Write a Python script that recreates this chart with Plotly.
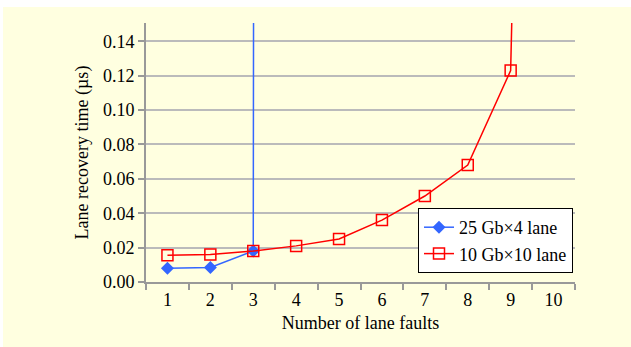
import plotly.graph_objects as go

# Number of lane faults (category axis)
faults = ["1", "2", "3", "4", "5", "6", "7", "8", "9", "10"]

# Lane recovery time in microseconds
lane25x4 = [0.008, 0.0085, 0.018, 20.0]
lane10x10 = [0.0155, 0.016, 0.018, 0.021, 0.025, 0.036, 0.050, 0.068, 0.123, 1.2]

y_ticks = [0.00, 0.02, 0.04, 0.06, 0.08, 0.10, 0.12, 0.14]

FONT = "Liberation Serif"
FS = 18
W, H = 631, 347
L, R, T, B = 146, 56, 23, 65
pw, ph = W - L - R, H - T - B

def px_x(p):
    return (p - L) / pw

def px_y(p):
    return (H - B - p) / ph

fig = go.Figure()

fig.add_trace(go.Scatter(
    x=faults[:len(lane25x4)], y=lane25x4, name="25 Gb×4 lane",
    mode="lines+markers",
    line=dict(color="#3366ff", width=1.5),
    marker=dict(symbol="diamond", size=10, color="#3366ff"),
))
fig.add_trace(go.Scatter(
    x=faults, y=lane10x10, name="10 Gb×10 lane",
    mode="lines+markers",
    line=dict(color="#ff0000", width=1.5),
    marker=dict(symbol="square-open", size=11, color="#ff0000",
                line=dict(width=1.5)),
))

# cream panel behind the chart
fig.add_shape(type="rect", xref="paper", yref="paper",
              x0=px_x(3), x1=px_x(W + 5), y0=px_y(H + 5), y1=px_y(7),
              fillcolor="#ffffe0", line=dict(width=0), layer="below")

fig.update_layout(
    width=W, height=H,
    margin=dict(l=L, r=R, t=T, b=B),
    paper_bgcolor="white",
    plot_bgcolor="white",
    font=dict(family=FONT, size=FS, color="black"),
    showlegend=True,
    legend=dict(
        x=px_x(573), y=px_y(273), xanchor="right", yanchor="bottom",
        bgcolor="white", bordercolor="black", borderwidth=1,
        font=dict(family=FONT, size=FS),
        tracegroupgap=0, itemwidth=30,
    ),
    xaxis=dict(
        type="category", categoryorder="array", categoryarray=faults,
        range=[-0.5, 9.5],
        tickson="boundaries", ticks="outside", ticklen=6, tickwidth=2,
        tickcolor="#999999",
        showline=True, linecolor="#999999", linewidth=2,
        showgrid=False, zeroline=False,
        title=dict(text="Number of lane faults", standoff=8,
                   font=dict(family=FONT, size=FS)),
        tickfont=dict(family=FONT, size=FS),
    ),
    yaxis=dict(
        range=[0, 0.1506],
        tickvals=y_ticks, tickformat=".2f",
        ticks="outside", ticklen=6, tickwidth=2, tickcolor="#999999",
        showline=True, linecolor="#999999", linewidth=2,
        showgrid=True, gridcolor="#bbbbbb", gridwidth=2,
        zeroline=False,
        title=dict(text="Lane recovery time (µs)", standoff=10,
                   font=dict(family=FONT, size=FS)),
        tickfont=dict(family=FONT, size=FS),
    ),
)

fig.write_html("out.html")
